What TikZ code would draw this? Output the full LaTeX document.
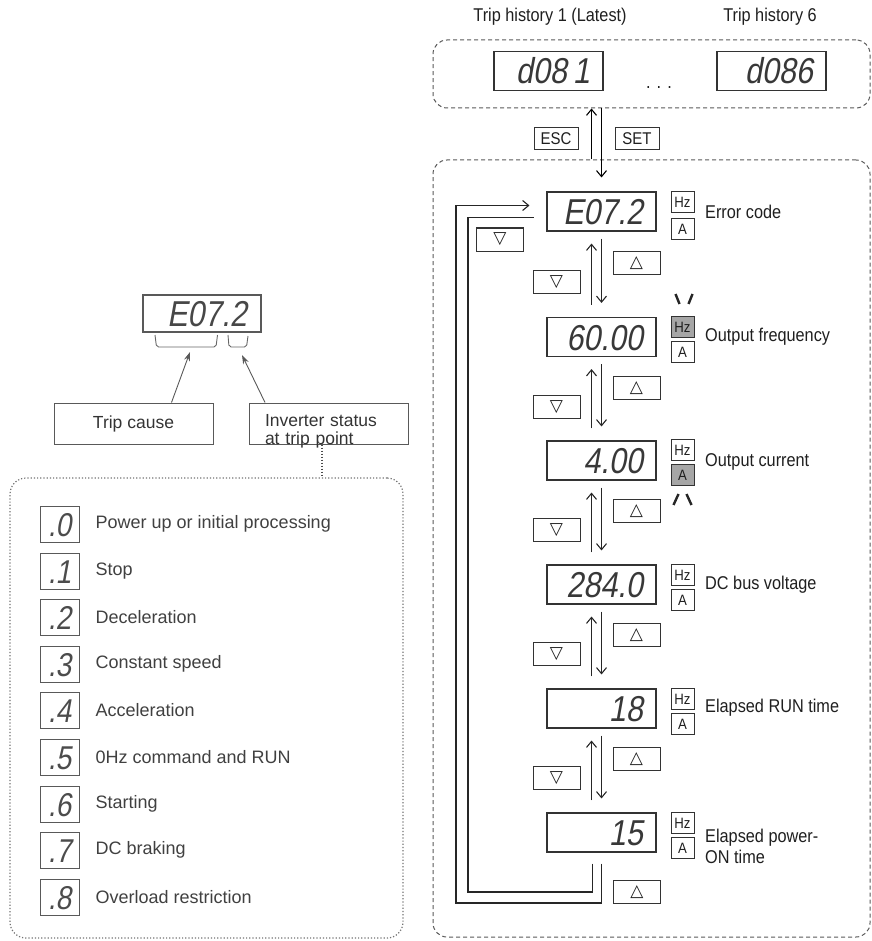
\documentclass[tikz,border=0pt]{standalone}
\usepackage{fontspec}
\setmainfont{Liberation Sans}
\newfontfamily\narrowfont[FakeStretch=0.88]{Liberation Sans}
\newfontfamily\segfont[FakeSlant=0.18,FakeStretch=0.85]{Liberation Sans}
\newfontfamily\symfont{DejaVu Sans}
\usetikzlibrary{arrows.meta,positioning}

\begin{document}
\begin{tikzpicture}[
          x=1pt, y=-1pt,
          every node/.style={inner sep=0pt, text=black!88},
          disp/.style={draw=black!80, line width=1.1pt, minimum width=109pt, minimum height=39pt,
            text width=83pt, align=right, text height=26pt, text depth=0pt, text=black!78,
            font=\segfont\fontsize{36}{36}\selectfont},
          cell/.style={draw=black!65, line width=1pt, minimum width=39pt, minimum height=36pt,
            text height=25pt, text depth=0pt, text=black!70, font=\segfont\fontsize{33}{33}\selectfont},
          unit/.style={draw=black!80, line width=1pt, minimum width=23pt, minimum height=21pt,
            font=\narrowfont\fontsize{15}{15}\selectfont},
          lit/.style={unit, fill=black!35},
          key/.style={draw=black!80, line width=1pt, minimum width=47pt, minimum height=23pt,
            font=\symfont\fontsize{17}{17}\selectfont},
          btn/.style={draw=black!80, line width=1pt, minimum width=44pt, minimum height=22pt,
            font=\narrowfont\fontsize{17}{17}\selectfont},
          lbl/.style={font=\narrowfont\fontsize{18.5}{21}\selectfont, align=left},
          tag/.style={draw=black!65, line width=1pt, minimum width=159pt, minimum height=41pt,
            text=black!80, font=\fontsize{17.5}{18}\selectfont},
          item/.style={text=black!75, font=\fontsize{18}{18}\selectfont},
          dashbox/.style={draw=black!65, line width=1pt, dash pattern=on 4pt off 3pt, rounded corners=14pt},
          dotbox/.style={draw=black!55, line width=1.2pt, dash pattern=on 1.2pt off 2pt, rounded corners=16pt},
          blink/.style={line width=2.4pt, black!85},
          brk/.style={draw=black!60, line width=0.9pt, rounded corners=2pt},
          ptr/.style={draw=black!65, line width=0.9pt, -{Stealth[length=9pt,width=6pt]}},
          upar/.style={->, shorten <=12pt, shorten >=12pt},
          dnar/.style={->, shorten <=7pt, shorten >=14pt},
          >={Straight Barb[length=6pt,width=10pt]}
        ]
        \useasboundingbox (0,0) rectangle (871,941);

        % trip history
        \node[lbl] (tLatest) at (550,17) {Trip history 1 (Latest)};
        \node[lbl] (tSix) at (770,17) {Trip history 6};
        \node[dashbox, minimum width=437pt, minimum height=68pt] (histBox) at (651.5,74) {};
        \node[disp] (h1) at (548.5,71) {d08\,1};
        \node[disp] (h6) at (771.5,71) {d086};
        \node[lbl] (more) at (659,88) {. . .};

        % monitor column
        \node[dashbox, minimum width=437pt, minimum height=777pt] (mainBox) at (651.5,548.5) {};
        \node[disp] (dErr) at (601.5,211.5) {E07.2};
        \node[disp] (dFreq) at (601.5,337) {60.00};
        \node[disp] (dCur) at (601.5,460.5) {4.00};
        \node[disp] (dVolt) at (601.5,584.5) {284.0};
        \node[disp] (dRun) at (601.5,708.5) {18};
        \node[disp] (dPow) at (601.5,832.5) {15};

        % Hz / A lamps
        \node[unit] (hErr) at (682.5,202) {Hz};
        \node[unit] (aErr) at (682.5,229) {A};
        \node[lit] (hFreq) at (682.5,327) {Hz};
        \node[unit] (aFreq) at (682.5,352) {A};
        \node[unit] (hCur) at (682.5,450) {Hz};
        \node[lit] (aCur) at (682.5,475) {A};
        \node[unit] (hVolt) at (682.5,575) {Hz};
        \node[unit] (aVolt) at (682.5,600) {A};
        \node[unit] (hRun) at (682.5,699) {Hz};
        \node[unit] (aRun) at (682.5,724) {A};
        \node[unit] (hPow) at (682.5,823) {Hz};
        \node[unit] (aPow) at (682.5,848) {A};

        % blinking lamps
        \draw[blink] ([xshift=-3pt,yshift=12pt]hFreq.north) -- ++(-4,-10);
        \draw[blink] ([xshift=6pt,yshift=12pt]hFreq.north) -- ++(4,-10);
        \draw[blink] ([xshift=-4pt,yshift=-8pt]aCur.south) -- ++(-5,11);
        \draw[blink] ([xshift=4pt,yshift=-8pt]aCur.south) -- ++(5,11);

        % labels
        \node[lbl, anchor=west] (lErr) at (705,212) {Error code};
        \node[lbl, anchor=west] (lFreq) at (705,337) {Output frequency};
        \node[lbl, anchor=west] (lCur) at (705,462) {Output current};
        \node[lbl, anchor=west] (lVolt) at (705,585) {DC bus voltage};
        \node[lbl, anchor=west] (lRun) at (705,708) {Elapsed RUN time};
        \node[lbl, anchor=west] (lPow) at (705,846) {Elapsed power-\\ON time};

        % ESC / SET
        \node[btn] (esc) at (556,139) {ESC};
        \node[btn] (set) at (637,139) {SET};
        \coordinate (escX) at ([xshift=-10pt]dErr.north);
        \draw[->, line width=1.1pt] (escX |- mainBox.north) -- (escX |- histBox.south);
        \draw[->, line width=1.1pt, shorten >=14pt] (dErr.north |- histBox.south) -- (dErr.north);

        % up / down keys
        \node[key] (up1) at (636.5,263) {△};
        \node[key] (dn1) at (556.5,282) {▽};
        \node[key] (up2) at (636.5,388) {△};
        \node[key] (dn2) at (556.5,407) {▽};
        \node[key] (up3) at (636.5,511) {△};
        \node[key] (dn3) at (556.5,530) {▽};
        \node[key] (up4) at (636.5,635) {△};
        \node[key] (dn4) at (556.5,654) {▽};
        \node[key] (up5) at (636.5,759) {△};
        \node[key] (dn5) at (556.5,778) {▽};
        \node[key] (dnTop) at (500,239.5) {▽};
        \node[key] (upEnd) at (637,892) {△};

        \begin{scope}[line width=1.1pt, black!85]
        % 1
        \draw[upar] ([xshift=-10pt]dFreq.north) -- ([xshift=-10pt]dErr.south);
        \draw[dnar] (dErr.south) -- (dFreq.north);
        % 2
        \draw[upar] ([xshift=-10pt]dCur.north) -- ([xshift=-10pt]dFreq.south);
        \draw[dnar] (dFreq.south) -- (dCur.north);
        % 3
        \draw[upar] ([xshift=-10pt]dVolt.north) -- ([xshift=-10pt]dCur.south);
        \draw[dnar] (dCur.south) -- (dVolt.north);
        % 4
        \draw[upar] ([xshift=-10pt]dRun.north) -- ([xshift=-10pt]dVolt.south);
        \draw[dnar] (dVolt.south) -- (dRun.north);
        % 5
        \draw[upar] ([xshift=-10pt]dPow.north) -- ([xshift=-10pt]dRun.south);
        \draw[dnar] (dRun.south) -- (dPow.north);
        % wrap round
        \coordinate (outerCorner) at (456,903);
        \coordinate (innerCorner) at (468,892);
        \draw[->] ([yshift=-11pt]dPow.south) |- (outerCorner) |- ([xshift=-17pt,yshift=6pt]dErr.west);
        \draw ([xshift=-9pt,yshift=-11pt]dPow.south) |- (innerCorner) |- ([xshift=-12pt,yshift=-6pt]dErr.west);
        \end{scope}

        % trip code
        \node[disp, minimum width=118pt, minimum height=37pt, text width=90pt, draw=black!65, text=black!72] (dTrip) at (202,313.5) {E07.2};
        \draw[brk] (155,335) -- (156.5,347) -- (216,347) -- (217.5,335);
        \draw[brk] (228,335) -- (229,347) -- (246.5,347) -- (248,336);
        \node[tag] (bCause) at (133.5,423.5) {Trip cause};
        \node[tag, text width=128pt, align=left, text depth=6pt] (bStatus) at (329,423.5) {Inverter status\\at trip point};
        \coordinate (causeTip) at (190,352);
        \coordinate (statusTip) at (242,355);
        \draw[ptr] ([xshift=38pt]bCause.north) -- (causeTip);
        \draw[ptr] ([xshift=-64pt]bStatus.north) -- (statusTip);

        % status list
        \node[dotbox, minimum width=393pt, minimum height=460pt] (listBox) at (206.5,708) {};
        \coordinate (stDrop) at ([xshift=-7pt]bStatus.south);
        \draw[black!70, line width=1.2pt, dash pattern=on 1.5pt off 1.5pt] (stDrop) -- (stDrop |- listBox.north);
        \node[cell] (c0) at (59.5,524) {.0};
        \node[item, right=16pt of c0] (t0) {Power up or initial processing};
        \node[cell] (c1) at (59.5,571) {.1};
        \node[item, right=16pt of c1] (t1) {Stop};
        \node[cell] (c2) at (59.5,617) {.2};
        \node[item, right=16pt of c2] (t2) {Deceleration};
        \node[cell] (c3) at (59.5,664) {.3};
        \node[item, right=16pt of c3] (t3) {Constant speed};
        \node[cell] (c4) at (59.5,710) {.4};
        \node[item, right=16pt of c4] (t4) {Acceleration};
        \node[cell] (c5) at (59.5,757) {.5};
        \node[item, right=16pt of c5] (t5) {0Hz command and RUN};
        \node[cell] (c6) at (59.5,804) {.6};
        \node[item, right=16pt of c6] (t6) {Starting};
        \node[cell] (c7) at (59.5,850) {.7};
        \node[item, right=16pt of c7] (t7) {DC braking};
        \node[cell] (c8) at (59.5,897) {.8};
        \node[item, right=16pt of c8] (t8) {Overload restriction};
      \end{tikzpicture}
\end{document}
